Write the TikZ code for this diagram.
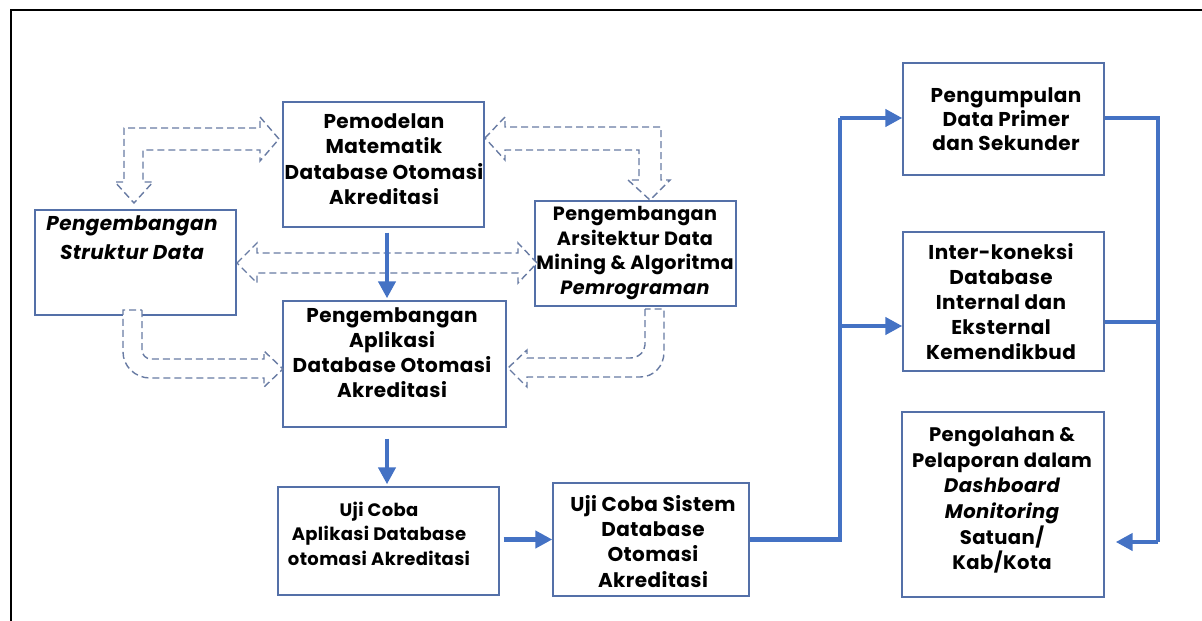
\documentclass[tikz,border=0pt]{standalone}
\usepackage{fontspec}
\setmainfont{Poppins}[LetterSpace=2.0]
\usetikzlibrary{arrows.meta}
\definecolor{boxc}{HTML}{5470A8}
\definecolor{dashc}{HTML}{687BA3}
\definecolor{flow}{HTML}{4472C4}
\begin{document}
\begin{tikzpicture}[x=1pt,y=-1pt,
  bx/.style={draw=boxc, line width=1.4pt, fill=white, inner sep=0pt},
  txt/.style 2 args={anchor=north, align=center, inner sep=0pt, font=\bfseries\fontsize{#1}{#2}\selectfont},
  hollow/.style={draw=dashc, line width=1.4pt, dash pattern=on 7pt off 4pt, fill=white, line join=miter},
  flowline/.style={draw=flow, line width=4.5pt},
  flowarrow/.style={flowline, -{Triangle[length=17pt,width=17pt]}}]
\useasboundingbox (0,0) rectangle (1202,621);
% frame
\draw[line width=2.5pt] (1202,10) -- (11,10) -- (11,621);

% boxes
\node[bx, minimum width=201pt, minimum height=125pt] (pemod) at (383.5,164.5) {};
\node[bx, minimum width=201pt, minimum height=105pt] (strukt) at (135.5,262.5) {};
\node[bx, minimum width=201pt, minimum height=105pt] (arsi) at (635.5,253.5) {};
\node[bx, minimum width=223pt, minimum height=126pt] (apl) at (394.5,364) {};
\node[bx, minimum width=221pt, minimum height=108pt] (ujiA) at (388.5,541) {};
\node[bx, minimum width=196pt, minimum height=113pt] (ujiS) at (651,539.5) {};
\node[bx, minimum width=201pt, minimum height=112pt] (peng) at (1003.5,119) {};
\node[bx, minimum width=201pt, minimum height=139pt] (inter) at (1003.5,301.5) {};
\node[bx, minimum width=202pt, minimum height=185pt] (olah) at (1003,504.5) {};

% texts
\node[txt={20}{25.5}] (pemodT) at (384,113) {Pemodelan\\Matematik\\Database Otomasi\\Akreditasi};
\node[txt={20}{29}] (struktT) at (132,215) {\itshape Pengembangan\\\itshape Struktur Data};
\node[txt={19.2}{24.5}] (arsiT) at (635,206.5) {Pengembangan\\Arsitektur Data\\Mining \& Algoritma\\\itshape Pemrograman};
\node[txt={20}{25.3}] (aplT) at (392,307) {Pengembangan\\Aplikasi\\Database Otomasi\\Akreditasi};
\node[txt={18}{24.5}] (ujiAT) at (379,501.5) {Uji Coba\\Aplikasi Database\\otomasi Akreditasi};
\node[txt={20}{25.3}] (ujiST) at (653,495) {Uji Coba Sistem\\Database\\Otomasi\\Akreditasi};
\node[txt={20}{24}] (pengT) at (1006,87) {Pengumpulan\\Data Primer\\dan Sekunder};
\node[txt={20}{25}] (interT) at (1001,243) {Inter-koneksi\\Database\\Internal dan\\Eksternal\\Kemendikbud};
\node[txt={19.6}{25.6}] (olahT) at (1002,427) {Pengolahan \&\\Pelaporan dalam\\\itshape Dashboard\\\itshape Monitoring\\Satuan/\\Kab/Kota};

% hollow dashed arrows
\draw[hollow] (279,139) -- (260,117) -- (260,128) -- (124,128) -- (124,182) -- (115,182)
  -- (134,203) -- (153,182) -- (143,182) -- (143,150) -- (260,150) -- (260,161) -- cycle;
\draw[hollow] (485,138) -- (505,117) -- (505,127) -- (661,127) -- (661,180) -- (670,180)
  -- (650,200) -- (628,180) -- (639,180) -- (639,150) -- (505,150) -- (505,160) -- cycle;
\draw[hollow] (237,263) -- (257,243) -- (257,253) -- (518,253) -- (518,243) -- (537,263)
  -- (518,283) -- (518,273) -- (257,273) -- (257,283) -- cycle;
\draw[hollow] (142,310) -- (142,350) .. controls (142,355) and (146,359) .. (151,359)
  -- (264,359) -- (264,351) -- (283,369) -- (264,387) -- (264,378) -- (150,378)
  .. controls (135,378) and (123,366) .. (123,352) -- (123,310) -- cycle;
\draw[hollow] (645,309) -- (645,345) .. controls (645,352) and (638,358) .. (630,358)
  -- (527,358) -- (527,350) -- (508,368) -- (527,387) -- (527,377) -- (640,377)
  .. controls (654,377) and (664,366) .. (664,352) -- (664,309) -- cycle;

% solid flow arrows
\coordinate (ax) at (387,0);
\coordinate (jT) at (840,118);
\coordinate (jB) at (840,326);
\coordinate (kT) at (1158,118);
\coordinate (kB) at (1158,542);
\coordinate (kM) at (1158,322);
\draw[flowarrow, shorten <=5pt, shorten >=2pt] (pemod.south -| ax) -- (apl.north -| ax);
\draw[flowarrow, shorten <=11pt, shorten >=2pt] (apl.south -| ax) -- (ujiA.north -| ax);
\draw[flowarrow, shorten <=4pt] (ujiA.east |- ujiS.east) -- (ujiS.west);
\draw[flowline] (ujiS.east) -| (jT);
\draw[flowarrow] (jT) -- (jT -| peng.west);
\draw[flowarrow] (jB) -- (jB -| inter.west);
\draw[flowline] (peng.east |- kT) -- (kT) -- (kB);
\draw[flowarrow, shorten >=11pt] (kB) -- (kB -| olah.east);
\draw[flowline] (inter.east |- kM) -- (kM);
\end{tikzpicture}
\end{document}
